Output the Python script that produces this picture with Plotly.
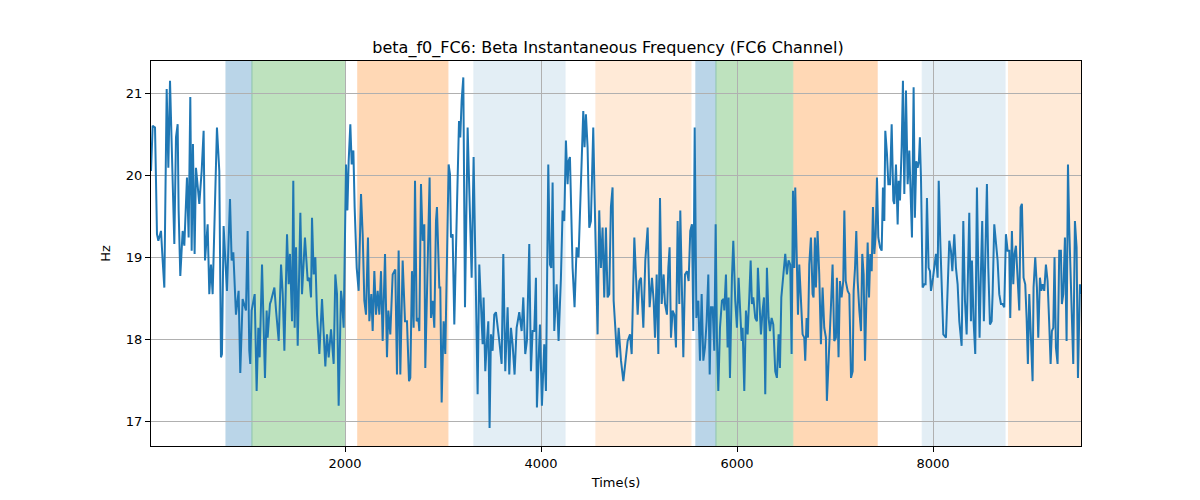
import plotly.graph_objects as go

# Time (s) and instantaneous frequency (Hz)
time_s = [
    20, 37, 61, 81, 95, 122, 139, 156, 180, 197, 214, 231, 258, 275, 292, 302, 319, 343, 360, 387,
    404, 421, 435, 448, 465, 479, 513, 537, 557, 571, 598, 615, 632, 649, 673, 693, 717, 734, 744, 761,
    795, 826, 843, 860, 887, 914, 931, 955, 989, 1006, 1023, 1033, 1047, 1078, 1098, 1115, 1129, 1153, 1183, 1200,
    1210, 1234, 1245, 1279, 1296, 1323, 1347, 1364, 1381, 1408, 1425, 1438, 1459, 1472, 1486, 1500, 1517, 1544, 1561, 1591,
    1619, 1636, 1653, 1663, 1680, 1697, 1714, 1738, 1765, 1779, 1799, 1816, 1833, 1857, 1884, 1901, 1918, 1935, 1959, 1969,
    1986, 2010, 2024, 2037, 2054, 2068, 2085, 2098, 2119, 2139, 2163, 2180, 2197, 2214, 2234, 2248, 2268, 2282, 2299, 2316,
    2333, 2350, 2367, 2384, 2408, 2428, 2442, 2462, 2486, 2513, 2530, 2547, 2564, 2588, 2612, 2632, 2653, 2666, 2683, 2700,
    2714, 2731, 2748, 2758, 2775, 2792, 2809, 2819, 2843, 2863, 2877, 2894, 2911, 2928, 2938, 2962, 2972, 2986, 3006, 3023,
    3040, 3057, 3071, 3081, 3098, 3115, 3142, 3163, 3176, 3190, 3207, 3224, 3251, 3271, 3292, 3312, 3329, 3353, 3370, 3387,
    3404, 3414, 3431, 3448, 3462, 3475, 3489, 3506, 3523, 3540, 3557, 3574, 3598, 3615, 3635, 3659, 3676, 3693, 3710, 3730,
    3751, 3778, 3802, 3819, 3839, 3856, 3880, 3897, 3914, 3931, 3948, 3958, 3975, 3989, 4009, 4033, 4050, 4074, 4091, 4105,
    4118, 4135, 4159, 4179, 4203, 4220, 4237, 4254, 4271, 4281, 4295, 4308, 4322, 4342, 4363, 4383, 4407, 4431, 4444, 4458,
    4475, 4492, 4509, 4533, 4546, 4560, 4577, 4594, 4611, 4628, 4645, 4662, 4679, 4696, 4713, 4730, 4741, 4758, 4775, 4792,
    4816, 4840, 4860, 4884, 4908, 4925, 4952, 4969, 4986, 5003, 5020, 5044, 5064, 5088, 5108, 5132, 5149, 5163, 5180, 5197,
    5214, 5231, 5251, 5265, 5285, 5299, 5312, 5326, 5343, 5360, 5377, 5394, 5411, 5421, 5435, 5452, 5469, 5489, 5506, 5523,
    5540, 5554, 5568, 5585, 5605, 5622, 5639, 5656, 5673, 5690, 5707, 5721, 5734, 5751, 5768, 5782, 5795, 5809, 5826, 5846,
    5863, 5870, 5887, 5904, 5914, 5928, 5948, 5962, 5982, 5999, 6016, 6030, 6047, 6057, 6074, 6091, 6108, 6125, 6139, 6152,
    6166, 6186, 6203, 6213, 6227, 6244, 6261, 6275, 6288, 6305, 6322, 6336, 6353, 6370, 6390, 6407, 6424, 6438, 6452, 6472,
    6492, 6509, 6526, 6543, 6557, 6571, 6584, 6594, 6608, 6622, 6635, 6656, 6669, 6686, 6696, 6710, 6724, 6737, 6754, 6771,
    6781, 6795, 6805, 6822, 6839, 6856, 6873, 6890, 6907, 6917, 6934, 6958, 6975, 6992, 7009, 7019, 7036, 7050, 7067, 7084,
    7095, 7109, 7129, 7146, 7163, 7180, 7190, 7204, 7217, 7231, 7248, 7265, 7278, 7292, 7306, 7319, 7333, 7347, 7360, 7374,
    7387, 7401, 7415, 7428, 7442, 7459, 7476, 7489, 7503, 7513, 7530, 7544, 7561, 7578, 7595, 7605, 7622, 7639, 7649, 7663,
    7680, 7693, 7707, 7724, 7741, 7758, 7775, 7785, 7802, 7815, 7829, 7843, 7856, 7866, 7877, 7894, 7911, 7924, 7938, 7955,
    7969, 7979, 8000, 8013, 8030, 8047, 8058, 8075, 8088, 8105, 8132, 8149, 8166, 8183, 8197, 8217, 8234, 8251, 8268, 8292,
    8309, 8326, 8343, 8370, 8387, 8397, 8414, 8431, 8448, 8462, 8475, 8489, 8502, 8519, 8533, 8550, 8564, 8581, 8598, 8608,
    8625, 8642, 8659, 8676, 8693, 8710, 8727, 8744, 8761, 8778, 8788, 8805, 8819, 8832, 8846, 8863, 8880, 8894, 8907, 8924,
    8941, 8955, 8968, 8982, 8999, 9016, 9026, 9043, 9060, 9074, 9091, 9105, 9118, 9135, 9152, 9169, 9186, 9200, 9213, 9227,
    9240, 9254, 9271, 9288, 9305, 9315, 9329, 9346, 9363, 9377, 9390, 9407, 9431, 9448, 9465, 9479, 9499, 9509,
]
freq_hz = [
    20.05, 20.60, 20.58, 19.28, 19.20, 19.32, 18.96, 18.63, 21.05, 20.09, 21.15, 20.38, 19.16, 20.46, 20.62, 19.57, 18.77, 19.32, 19.14, 19.97,
    19.24, 20.95, 19.08, 20.38, 19.04, 20.09, 19.65, 20.05, 20.54, 18.96, 19.40, 18.55, 18.91, 18.55, 19.57, 20.58, 20.05, 17.78, 17.82, 19.38,
    18.59, 19.71, 18.96, 19.06, 18.30, 18.59, 17.59, 18.49, 18.35, 19.32, 17.86, 17.70, 18.35, 18.55, 17.37, 18.14, 17.78, 18.91, 17.53, 18.35,
    18.02, 18.43, 18.47, 18.63, 18.35, 17.98, 18.91, 18.55, 17.86, 19.28, 18.67, 19.04, 18.22, 19.93, 18.14, 19.12, 17.92, 19.54, 18.55, 19.24,
    18.71, 18.75, 18.51, 19.48, 18.79, 19.00, 18.30, 17.82, 18.49, 18.14, 17.67, 18.06, 17.78, 18.12, 17.70, 18.79, 18.55, 17.19, 18.59, 18.47,
    18.14, 20.13, 19.57, 20.17, 20.62, 20.13, 20.30, 19.61, 18.87, 18.59, 19.77, 19.28, 18.47, 18.30, 19.24, 18.22, 18.55, 18.10, 18.83, 18.30,
    18.59, 18.30, 18.83, 17.98, 19.04, 17.78, 18.35, 18.06, 18.79, 18.85, 17.57, 19.08, 17.57, 18.96, 18.22, 18.22, 17.49, 17.53, 18.83, 18.14,
    19.93, 18.22, 18.26, 18.10, 19.89, 19.20, 19.40, 17.65, 18.96, 19.97, 18.26, 18.47, 18.14, 19.44, 19.61, 18.63, 18.63, 17.23, 18.22, 17.82,
    18.96, 20.13, 20.01, 19.24, 19.28, 18.18, 19.61, 20.66, 20.46, 20.91, 21.19, 18.39, 20.58, 19.69, 18.75, 20.22, 18.75, 17.33, 18.91, 18.30,
    17.94, 18.51, 17.61, 17.98, 18.22, 16.92, 18.06, 17.86, 18.30, 18.33, 18.18, 17.98, 17.70, 19.04, 17.61, 18.39, 17.57, 18.14, 17.94, 17.57,
    18.14, 18.33, 18.10, 18.51, 17.82, 17.98, 19.16, 17.61, 18.10, 18.10, 18.75, 17.17, 17.74, 18.18, 17.19, 17.94, 17.37, 20.13, 18.91, 18.87,
    19.91, 18.10, 18.67, 17.98, 18.75, 19.57, 19.44, 20.42, 19.89, 20.17, 20.22, 19.44, 18.87, 18.39, 19.12, 19.00, 19.85, 20.78, 20.34, 20.74,
    20.34, 19.36, 19.44, 20.58, 19.77, 19.12, 18.06, 19.57, 18.87, 19.36, 18.51, 19.36, 18.51, 18.55, 19.61, 19.85, 18.47, 18.14, 17.78, 18.14,
    17.74, 17.49, 17.74, 17.98, 18.06, 17.82, 19.24, 18.79, 18.30, 18.71, 18.75, 18.14, 18.96, 19.36, 18.39, 18.75, 18.47, 18.02, 18.79, 17.82,
    19.72, 18.43, 18.79, 18.43, 18.30, 18.87, 19.12, 18.02, 18.35, 18.30, 17.90, 19.44, 18.43, 19.57, 18.63, 17.78, 18.79, 18.83, 18.71, 19.32,
    19.40, 18.10, 20.58, 18.26, 18.47, 17.74, 18.55, 17.74, 17.90, 18.22, 18.79, 17.57, 18.39, 18.39, 17.86, 19.40, 18.02, 17.37, 18.14, 18.47,
    18.49, 18.35, 18.79, 17.90, 18.51, 17.53, 18.75, 19.20, 18.47, 18.14, 18.75, 18.39, 17.98, 18.14, 17.37, 18.35, 18.06, 18.51, 18.96, 18.43,
    18.51, 18.26, 18.22, 18.87, 18.47, 18.06, 18.35, 18.51, 17.33, 18.87, 18.26, 18.10, 18.26, 18.18, 17.61, 17.53, 18.06, 17.65, 18.51, 18.79,
    19.04, 18.79, 18.96, 18.91, 17.82, 19.81, 18.87, 19.85, 18.96, 18.30, 18.91, 18.47, 18.06, 18.02, 17.74, 18.26, 18.02, 18.91, 19.24, 18.55,
    18.51, 19.24, 18.63, 19.32, 18.79, 17.94, 18.63, 18.14, 18.02, 17.25, 17.82, 18.39, 18.91, 17.98, 18.02, 18.75, 17.78, 18.71, 18.51, 18.71,
    19.57, 18.71, 18.59, 18.55, 17.53, 17.61, 18.59, 18.87, 19.32, 18.71, 18.35, 18.10, 19.04, 18.79, 17.74, 18.55, 19.18, 18.51, 19.04, 18.83,
    19.61, 19.04, 19.28, 19.97, 19.24, 19.12, 19.08, 19.85, 19.44, 20.54, 20.26, 19.89, 19.89, 20.62, 19.69, 19.65, 20.13, 19.40, 19.93, 19.69,
    20.34, 21.15, 19.77, 21.03, 19.89, 20.30, 19.69, 19.24, 21.07, 19.48, 20.17, 20.09, 20.17, 20.46, 19.97, 18.63, 18.67, 18.67, 19.72, 18.87,
    18.83, 18.59, 18.75, 18.87, 19.04, 18.75, 19.93, 19.16, 18.55, 18.06, 18.02, 18.63, 19.20, 19.08, 18.83, 19.28, 18.87, 18.67, 18.22, 17.92,
    19.44, 18.47, 18.06, 19.54, 18.22, 18.96, 18.22, 17.82, 19.85, 18.83, 18.02, 18.83, 19.44, 18.22, 18.87, 19.89, 18.87, 18.18, 18.22, 18.55,
    19.40, 19.12, 18.96, 18.55, 18.43, 18.43, 18.39, 19.28, 19.08, 19.08, 18.26, 19.32, 18.67, 19.04, 19.14, 18.75, 18.35, 19.61, 19.65, 18.75,
    18.67, 18.26, 17.70, 18.55, 18.06, 17.49, 18.63, 19.00, 18.63, 18.02, 18.75, 18.59, 18.67, 18.59, 18.91, 18.71, 18.18, 17.70, 18.10, 18.14,
    19.00, 17.90, 17.70, 19.08, 19.08, 18.43, 18.55, 19.24, 17.98, 20.13, 19.36, 18.63, 17.70, 19.44, 19.12, 17.53, 18.67, 18.55,
]

# Shaded regions: start, end, colour, opacity
span_start = [785, 1050, 2130, 3315, 4560, 5580, 5785, 6580, 7890, 8770]
span_end = [1050, 2000, 3050, 4245, 5530, 5785, 6570, 7430, 8735, 9600]
span_color = ["#1f77b4", "#2ca02c", "#ff7f0e", "#1f77b4", "#ff7f0e",
              "#1f77b4", "#2ca02c", "#ff7f0e", "#1f77b4", "#ff7f0e"]
span_alpha = [0.3, 0.3, 0.3, 0.12, 0.16, 0.3, 0.3, 0.3, 0.12, 0.16]

x_ticks = [2000, 4000, 6000, 8000]
y_ticks = [17, 18, 19, 20, 21]

fig = go.Figure()
fig.add_trace(go.Scatter(x=time_s, y=freq_hz, mode="lines",
                         line=dict(color="#1f77b4", width=2), showlegend=False))

for s, e, c, a in zip(span_start, span_end, span_color, span_alpha):
    fig.add_shape(type="rect", xref="x", yref="paper", x0=s, x1=e, y0=0, y1=1,
                  fillcolor=c, opacity=a, line=dict(color=c, width=1), layer="below")

font = "DejaVu Sans, Arial, sans-serif"
fig.update_layout(
    width=1200, height=500,
    margin=dict(l=143, r=127, t=53, b=62),
    paper_bgcolor="white", plot_bgcolor="white",
    title=dict(text="beta_f0_FC6: Beta Instantaneous Frequency (FC6 Channel)",
               x=0.5, xanchor="center", y=0.922, yanchor="middle",
               font=dict(family=font, size=16, color="black")),
    font=dict(family=font, size=13, color="black"),
)
fig.update_xaxes(range=[20, 9510], tickvals=x_ticks, ticktext=[str(v) for v in x_ticks],
                 showgrid=True, gridcolor="#b0b0b0", gridwidth=1,
                 showline=True, linecolor="black", linewidth=1, mirror=True,
                 ticks="outside", ticklen=5, tickcolor="black", zeroline=False,
                 title=dict(text="Time(s)", font=dict(size=13), standoff=8))
fig.update_yaxes(range=[16.7, 21.39], tickvals=y_ticks, ticktext=[str(v) for v in y_ticks],
                 showgrid=True, gridcolor="#b0b0b0", gridwidth=1,
                 showline=True, linecolor="black", linewidth=1, mirror=True,
                 ticks="outside", ticklen=5, tickcolor="black", zeroline=False,
                 title=dict(text="Hz", font=dict(size=13), standoff=12))

fig.write_html("out.html")
